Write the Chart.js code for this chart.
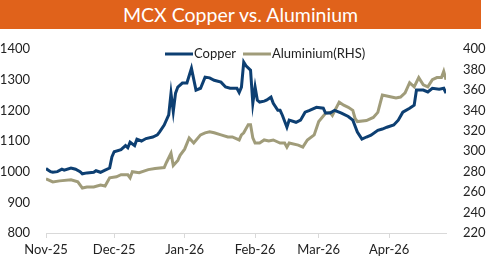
<!DOCTYPE html>
<html>
<head>
<meta charset="utf-8">
<script src="https://cdn.jsdelivr.net/npm/chart.js@4"></script>
<style>
  body { margin: 0; background: #fff; }
  #wrap { position: relative; width: 500px; height: 280px; }
  #title {
    position: absolute; left: 0; top: 0; width: 481px; height: 29px;
    background: #E0621B; color: #fff; text-align: center;
    font: 19.5px Lato, sans-serif; line-height: 29px;
  }
  canvas { position: absolute; left: 0; top: 0; }
</style>
</head>
<body>
<div id="wrap">
  <canvas id="mycanvas" width="500" height="280"></canvas>
  <div id="title">MCX Copper vs. Aluminium</div>
</div>
<script>
// days counted from 1 Nov 2025
var monthDays = [0, 30, 61, 92, 120, 151];
var monthLabels = ['Nov-25', 'Dec-25', 'Jan-26', 'Feb-26', 'Mar-26', 'Apr-26'];

var copperDays = [0,2,3,5,7,8,11,13,15,16,18,21,22,24,26,28,29,30,33,35,36,37,39,40,42,44,47,49,50,52,54,55,56,57,58,60,62,64,66,68,70,72,74,77,79,81,84,85,86,87,88,90,91,92,93,94,96,97,99,100,102,103,104,106,107,110,112,114,116,119,122,123,125,127,130,133,135,137,139,141,143,146,148,150,153,155,157,160,162,163,166,168,170,173,175,176];
var copper = [1010,1000,998,1000,1008,1005,1012,1008,1000,993,996,998,1003,998,1005,1012,1048,1065,1072,1085,1078,1096,1085,1106,1100,1108,1113,1120,1130,1152,1185,1256,1196,1256,1276,1289,1289,1337,1266,1272,1308,1306,1298,1292,1276,1272,1272,1258,1276,1357,1345,1331,1223,1276,1233,1227,1230,1233,1243,1223,1200,1200,1184,1145,1168,1161,1168,1194,1200,1210,1207,1191,1191,1200,1191,1180,1168,1129,1106,1113,1119,1135,1139,1145,1152,1168,1194,1207,1217,1266,1266,1260,1272,1269,1272,1256];

var alDays = [0,3,6,11,14,16,18,21,24,26,28,31,33,36,37,38,41,45,48,52,53,55,56,58,59,61,63,65,68,70,72,74,77,80,82,85,86,87,89,90,91,92,94,96,98,100,103,105,106,107,111,113,115,118,120,123,125,126,129,131,133,135,136,137,141,144,146,148,152,154,156,158,160,162,164,166,168,170,172,174,175,176];
var aluminium = [273,270,271,272,270,264,265,265,267,266,274,275,277,277,274,280,279,282,283,284,289,298,286,291,296,302,313,308,316,318,319,318,316,314,314,311,316,318,326,326,313,308,308,311,310,311,308,308,304,308,306,304,311,316,329,337,338,335,348,345,343,340,332,329,330,333,338,355,353,352,353,357,367,363,372,365,363,370,372,372,378,370];

function pts(days, vals) {
  var out = [];
  for (var i in days) out.push({x: days[i], y: vals[i]});
  return out;
}

var legendPlugin = {
  id: 'inlineLegend',
  afterDraw: function(chart) {
    var c = chart.ctx, a = chart.chartArea;
    var y = a.top + 5;
    var items = [
      {x: a.left + 119, label: 'Copper', color: '#0D3F72'},
      {x: a.left + 197, label: 'Aluminium(RHS)', color: '#A09C7A'}
    ];
    c.save();
    c.font = '13px Lato, sans-serif';
    c.textBaseline = 'middle';
    items.forEach(function(it) {
      c.strokeStyle = it.color;
      c.lineWidth = 3;
      c.beginPath();
      c.moveTo(it.x, y);
      c.lineTo(it.x + 28, y);
      c.stroke();
      c.fillStyle = '#222';
      c.fillText(it.label, it.x + 29, y);
    });
    c.restore();
  }
};

var ctx = document.getElementById('mycanvas');
Chart.defaults.font.family = 'Lato, sans-serif';
Chart.defaults.color = '#222';

function plain(v) { return String(v); }

new Chart(ctx, {
  type: 'line',
  data: {
    datasets: [
      {
        label: 'Copper',
        data: pts(copperDays, copper),
        borderColor: '#0D3F72',
        borderWidth: 3,
        pointRadius: 0,
        tension: 0,
        yAxisID: 'y'
      },
      {
        label: 'Aluminium(RHS)',
        data: pts(alDays, aluminium),
        borderColor: '#A09C7A',
        borderWidth: 3,
        pointRadius: 0,
        tension: 0,
        yAxisID: 'y1'
      }
    ]
  },
  options: {
    responsive: false,
    animation: false,
    layout: { padding: { top: 49, left: 0, right: 0, bottom: 0 } },
    plugins: { legend: { display: false }, tooltip: { enabled: false } },
    scales: {
      x: {
        type: 'linear',
        min: 0,
        max: 176,
        afterBuildTicks: function(scale) {
          scale.ticks = monthDays.map(function(v) { return {value: v}; });
        },
        afterFit: function(scale) { scale.height = 47; },
        grid: { display: true, drawOnChartArea: false, drawTicks: true, tickLength: 5, color: '#d9d9d9' },
        border: { display: true, color: '#d9d9d9', width: 1 },
        ticks: {
          padding: 4,
          maxRotation: 0,
          autoSkip: false,
          font: { size: 13 },
          callback: function(v) {
            var i = monthDays.indexOf(v);
            return i >= 0 ? monthLabels[i] : '';
          }
        }
      },
      y: {
        position: 'left',
        min: 800,
        max: 1400,
        afterFit: function(scale) { scale.width = 46; },
        grid: { display: false },
        border: { display: false },
        ticks: { stepSize: 100, padding: 8, font: { size: 13 }, callback: plain }
      },
      y1: {
        position: 'right',
        min: 220,
        max: 400,
        afterFit: function(scale) { scale.width = 54; },
        grid: { display: false },
        border: { display: false },
        ticks: { stepSize: 20, padding: 9, font: { size: 13 }, callback: plain }
      }
    }
  },
  plugins: [legendPlugin]
});
</script>
</body>
</html>
